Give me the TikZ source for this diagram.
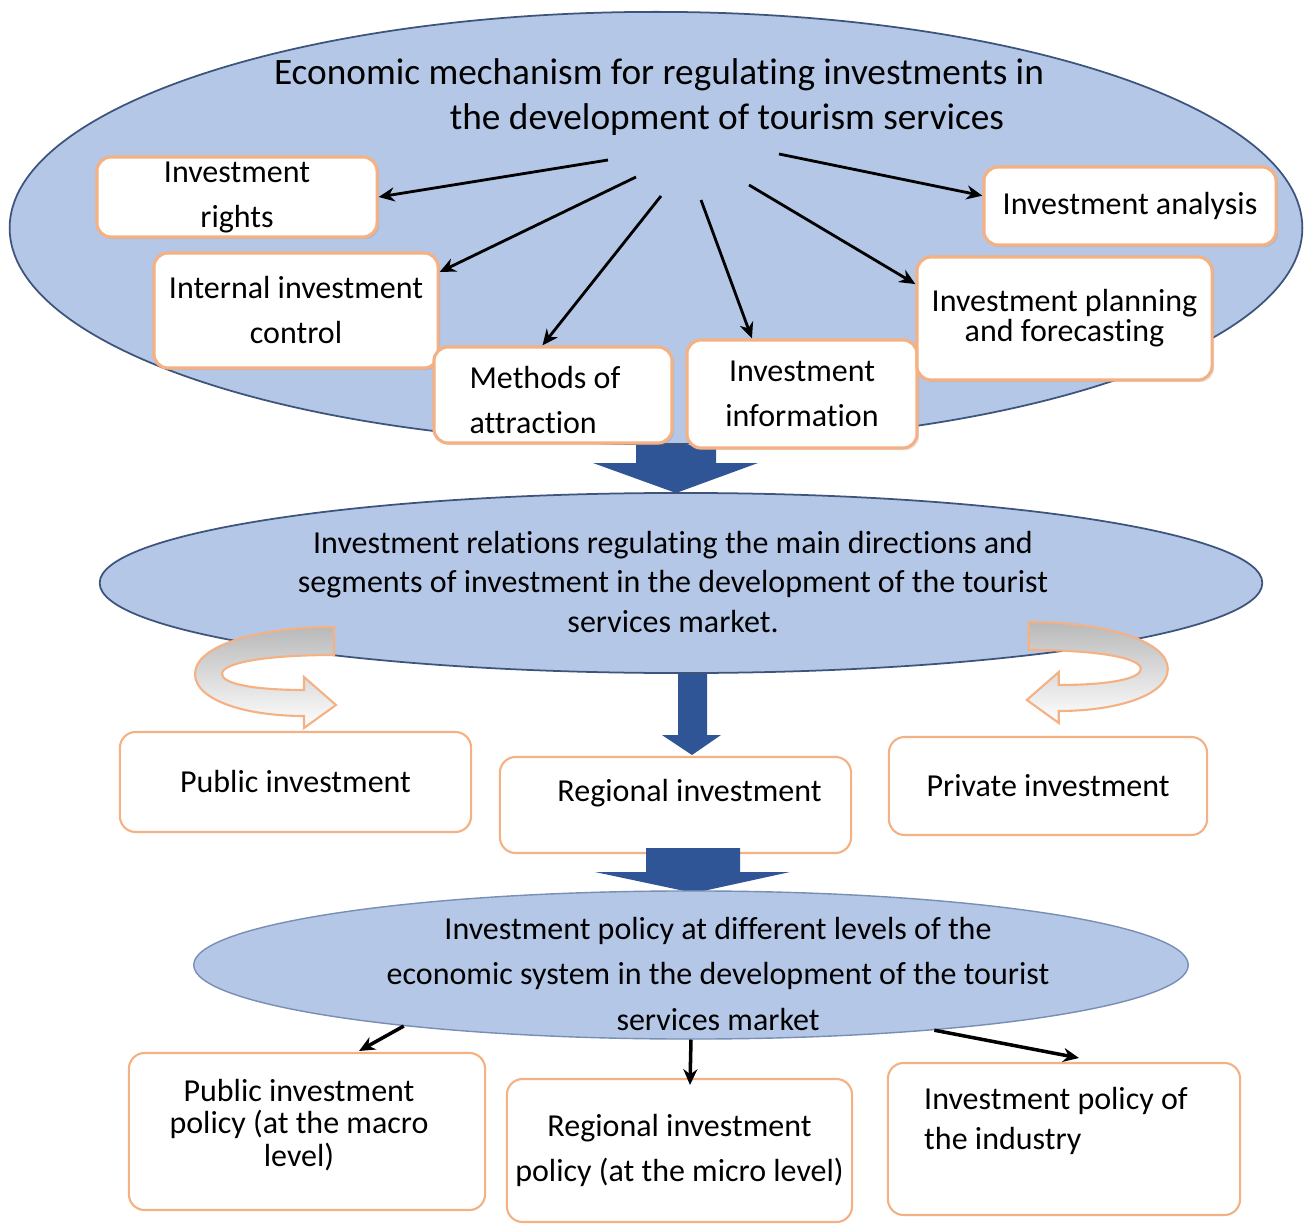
\documentclass[tikz,border=0pt]{standalone}
\usepackage{fontspec}
\setmainfont{Carlito}[Ligatures={NoCommon,NoContextual,NoRare}]
\usetikzlibrary{arrows.meta,shapes.geometric,shadows}

\definecolor{ellfill}{RGB}{180,199,231}
\definecolor{elldraw}{RGB}{62,84,124}
\definecolor{elldrawlight}{RGB}{120,142,180}
\definecolor{blockblue}{RGB}{47,85,151}
\definecolor{boxorange}{RGB}{244,177,131}
\definecolor{bandgray}{RGB}{185,185,185}

\tikzset{
  oval/.style={ellipse, draw=elldraw, fill=ellfill, line width=0.5pt, inner sep=0pt},
  topbox/.style={rectangle, rounded corners=4pt, draw=boxorange, line width=0.9pt,
    fill=white, inner sep=0pt, align=center, font=\fontsize{9.1}{12.8}\selectfont,
    drop shadow={shadow xshift=0.6pt, shadow yshift=-0.6pt, opacity=0.2, fill=gray}},
  lowbox/.style={rectangle, rounded corners=4.5pt, draw=boxorange, line width=0.6pt,
    fill=white, inner sep=0pt, align=center, font=\fontsize{9.1}{12.8}\selectfont},
  txt/.style={inner sep=0pt, align=center, font=\fontsize{9.1}{12.8}\selectfont},
  link/.style={-{Stealth[length=4.5pt,width=4pt]}, line width=0.8pt, black},
  blockarrow/.style={fill=blockblue, draw=none},
  turn/.style={draw=boxorange, line width=0.6pt, top color=bandgray, bottom color=white}
}

\begin{document}
\begin{tikzpicture}[x=0.01cm, y=-0.01cm]
\useasboundingbox (0,0) rectangle (1311,1224);

% ---------- upper level: the regulating mechanism ----------
\node[oval, minimum width=12.92cm, minimum height=4.32cm] (top) at (656,228) {};
\node[inner sep=0pt, font=\fontsize{10.6}{12.8}\selectfont] (title1) at (659,75)
  {Economic mechanism for regulating investments in};
\node[inner sep=0pt, font=\fontsize{10.6}{12.8}\selectfont] (title2) at (727,120)
  {the development of tourism services};

% block arrow down to the investment relations
\path[blockarrow] (636,445) -- (716,445) -- (716,463) -- (758,463) -- (676,493)
  -- (593,463) -- (636,463) -- cycle;

\node[topbox, minimum width=2.80cm, minimum height=0.80cm] (rights) at (237,197)
  {Investment\\rights};
\node[topbox, minimum width=2.84cm, minimum height=1.15cm] (ctrl) at (296,310.5)
  {Internal investment\\control};
\node[topbox, minimum width=2.38cm, minimum height=0.96cm] (meth) at (553,395) {};
\node[txt, align=left] (methtext) at (545,400) {Methods of\\attraction};
\node[topbox, minimum width=2.30cm, minimum height=1.08cm] (info) at (802,394)
  {Investment\\information};
\node[topbox, minimum width=2.95cm, minimum height=1.23cm,
  font=\fontsize{9.1}{8.5}\selectfont] (plan) at (1064.5,318.5)
  {Investment planning\\and forecasting};
\node[topbox, minimum width=2.92cm, minimum height=0.78cm] (anal) at (1130,206)
  {Investment analysis};

% fan of arrows from the mechanism to its elements
\coordinate (s1) at (608,160);
\coordinate (s2) at (636,177);
\coordinate (s3) at (661,196);
\coordinate (s4) at (701,200);
\coordinate (s5) at (749,185);
\coordinate (s6) at (779,154);
\draw[link] (s1) -- (rights.east);
\draw[link] (s2) -- (ctrl.15);
\draw[link] (s3) -- (meth.102);
\draw[link] (s4) -- (info.132);
\draw[link] (s5) -- (plan.167);
\draw[link] (s6) -- (anal.176);

% ---------- middle level: investment relations ----------
\path[blockarrow] (678,660) -- (707,660) -- (707,735) -- (721,735) -- (692,755)
  -- (662,735) -- (678,735) -- cycle;
\node[oval, minimum width=11.62cm, minimum height=1.80cm] (mid) at (681,583) {};
\node[txt, font=\fontsize{9.1}{11.1}\selectfont] (midtext) at (673,582)
  {Investment relations regulating the main directions and\\
   segments of investment in the development of the tourist\\
   services market.};

% turning arrows towards public and private investment
\path[turn] (334,627) -- (334,655) .. controls (270,655) and (222,662) .. (222,674)
  .. controls (222,684) and (255,690) .. (304,690) -- (304,677) -- (336,705)
  -- (304,728) -- (304,716) .. controls (245,716) and (195,700) .. (195,674)
  .. controls (195,645) and (260,627) .. (334,627) -- cycle;
\begin{scope}[xshift=13.62cm, yshift=0.05cm, xscale=-1]
\path[turn] (334,627) -- (334,655) .. controls (270,655) and (222,662) .. (222,674)
  .. controls (222,684) and (255,690) .. (304,690) -- (304,677) -- (336,705)
  -- (304,728) -- (304,716) .. controls (245,716) and (195,700) .. (195,674)
  .. controls (195,645) and (260,627) .. (334,627) -- cycle;
\end{scope}

\node[lowbox, minimum width=3.51cm, minimum height=1.00cm] (pubinv) at (295.5,782)
  {Public investment};
\node[lowbox, minimum width=3.51cm, minimum height=0.96cm] (reginv) at (675.5,805) {};
\node[txt] (reginvtext) at (689.5,793) {Regional investment};
\node[lowbox, minimum width=3.18cm, minimum height=0.98cm] (privinv) at (1048,786)
  {Private investment};

% ---------- lower level: investment policy ----------
\path[blockarrow] (646,848) -- (740,848) -- (740,872) -- (790,872) -- (694,893)
  -- (595,872) -- (646,872) -- cycle;
\node[oval, draw=elldrawlight, line width=0.4pt, minimum width=9.94cm,
  minimum height=1.48cm] (bot) at (691,965) {};
\node[txt] (bottext) at (718,974)
  {Investment policy at different levels of the\\
   economic system in the development of the tourist\\
   services market};

\node[lowbox, minimum width=3.56cm, minimum height=1.57cm] (pubpol) at (307,1131.5) {};
\node[txt, font=\fontsize{9.1}{9.2}\selectfont] (pubpoltext) at (299,1125)
  {Public investment\\policy (at the macro\\level)};
\node[lowbox, minimum width=3.45cm, minimum height=1.43cm] (regpol) at (679.5,1150.5)
  {Regional investment\\policy (at the micro level)};
\node[lowbox, minimum width=3.52cm, minimum height=1.52cm] (indpol) at (1064,1139) {};
\node[txt, align=left, font=\fontsize{9.1}{11.2}\selectfont] (indpoltext) at (1056,1121)
  {Investment policy of\\the industry};

\coordinate (e1) at (359,1051);
\coordinate (e2) at (690,1085);
\coordinate (e3) at (1079,1058);
\draw[link, line width=1pt] (bot.192) -- (e1);
\draw[link, line width=1pt] (bot.270) -- (e2);
\draw[link, line width=1pt] (bot.-15) -- (e3);
\end{tikzpicture}
\end{document}
